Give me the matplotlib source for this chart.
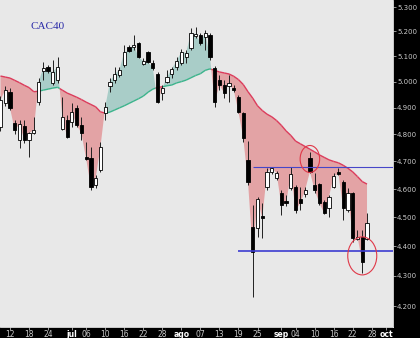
import numpy as np
import pandas as pd
import matplotlib
matplotlib.use("Agg")
import matplotlib.pyplot as plt
from matplotlib.patches import Ellipse
from matplotlib.transforms import ScaledTranslation
from matplotlib.collections import LineCollection
from matplotlib.ticker import FixedLocator, FuncFormatter, NullLocator

# ---------------- data ----------------
first_day = "2015-06-10"
last_day = "2015-09-25"
axis_end = "2015-10-01"

opens = [4827, 4919, 4961, 4843, 4779, 4831, 4779, 4805, 4922, 5043,
         5059, 4996, 5007, 4820, 4854, 4846, 4900, 4835, 4716, 4712,
         4615, 4669, 4880, 4984, 5007, 5027, 5066, 5138, 5138, 5154,
         5070, 5118, 5074, 5031, 4957, 5000, 5031, 5059, 5074, 5098,
         5134, 5182, 5186, 5178, 5186, 5055, 5007, 4988, 4984, 4976,
         4941, 4880, 4705, 4466, 4463, 4505, 4608, 4662, 4640, 4586,
         4557, 4604, 4608, 4565, 4583, 4712, 4615, 4619, 4554, 4533,
         4608, 4662, 4626, 4526, 4586, 4425, 4432, 4425]
highs = [4945, 4984, 4976, 4854, 4854, 4854, 4809, 4865, 5015, 5078,
         5066, 5086, 5098, 4941, 4873, 4919, 4911, 4865, 4771, 4753,
         4651, 4771, 4922, 5015, 5059, 5059, 5146, 5146, 5186, 5158,
         5094, 5122, 5086, 5039, 4988, 5047, 5059, 5098, 5130, 5126,
         5214, 5218, 5194, 5206, 5194, 5063, 5027, 5007, 5027, 4988,
         4949, 4884, 4775, 4543, 4572, 4550, 4676, 4680, 4666, 4597,
         4579, 4680, 4615, 4608, 4608, 4735, 4658, 4622, 4561, 4579,
         4658, 4676, 4633, 4604, 4590, 4456, 4456, 4515]
lows = [4812, 4907, 4892, 4801, 4749, 4768, 4716, 4801, 4911, 5007,
        5035, 4988, 4996, 4816, 4787, 4827, 4827, 4779, 4705, 4597,
        4604, 4662, 4854, 4961, 4996, 5019, 5059, 5118, 5126, 5094,
        5066, 5074, 5047, 4919, 4930, 4996, 5015, 5047, 5066, 5074,
        5126, 5174, 5146, 5126, 5086, 4903, 4969, 4938, 4922, 4961,
        4880, 4771, 4615, 4230, 4432, 4428, 4597, 4655, 4633, 4508,
        4540, 4597, 4515, 4526, 4572, 4658, 4586, 4543, 4512, 4501,
        4604, 4651, 4491, 4519, 4415, 4421, 4309, 4421]
closes = [4930, 4969, 4900, 4816, 4839, 4779, 4805, 4816, 5000, 5055,
          5043, 5039, 5059, 4865, 4791, 4884, 4835, 4805, 4709, 4608,
          4640, 4753, 4903, 5000, 5031, 5047, 5118, 5122, 5146, 5098,
          5082, 5078, 5055, 4922, 4976, 5019, 5051, 5082, 5118, 5114,
          5194, 5190, 5154, 5194, 5098, 4922, 4988, 4957, 4996, 4969,
          4884, 4787, 4626, 4380, 4565, 4498, 4662, 4676, 4658, 4543,
          4550, 4655, 4526, 4550, 4597, 4662, 4597, 4550, 4515, 4572,
          4647, 4655, 4533, 4586, 4428, 4432, 4346, 4480]
moving_avg = [5023, 5019, 5015, 5006, 4997, 4987, 4978, 4962, 4964, 4968,
              4972, 4976, 4979, 4968, 4957, 4949, 4941, 4932, 4922, 4913,
              4904, 4885, 4880, 4884, 4892, 4900, 4908, 4917, 4926, 4935,
              4945, 4960, 4972, 4979, 4981, 4985, 4988, 4996, 5001, 5007,
              5016, 5025, 5032, 5045, 5051, 5045, 5039, 5035, 5031, 5022,
              5009, 4990, 4962, 4937, 4908, 4890, 4876, 4866, 4852, 4834,
              4813, 4796, 4775, 4765, 4755, 4745, 4735, 4724, 4715, 4706,
              4700, 4695, 4686, 4675, 4662, 4645, 4627, 4618]

tick_dates = ["2015-06-12", "2015-06-18", "2015-06-24", "2015-07-01", "2015-07-06",
              "2015-07-10", "2015-07-16", "2015-07-22", "2015-07-28", "2015-08-03",
              "2015-08-07", "2015-08-13", "2015-08-19", "2015-08-25", "2015-09-01",
              "2015-09-04", "2015-09-10", "2015-09-16", "2015-09-22", "2015-09-28",
              "2015-10-01"]
tick_labels = ["12", "18", "24", "jul", "06", "10", "16", "22", "28", "ago",
               "07", "13", "19", "25", "sep", "04", "10", "16", "22", "28", "oct"]
month_labels = ["jul", "ago", "sep", "oct"]

price_ticks = [4200, 4300, 4400, 4500, 4600, 4700, 4800, 4900, 5000, 5100, 5200, 5300]

title = "CAC40"
resistance_level = 4678
resistance_start = "2015-08-24"
support_level = 4383
support_start = "2015-08-19"
circle_dates = ["2015-09-09", "2015-09-24"]
circle_prices = [4709, 4367]

# ---------------- layout ----------------
W, H, DPI = 420, 338, 100
fig = plt.figure(figsize=(W / DPI, H / DPI), dpi=DPI, facecolor="black")
ax = fig.add_axes([0, 11 / H, 393 / W, 327 / H])
ax.set_facecolor("#e8e8e8")

days = pd.bdate_range(first_day, axis_end)
pos_of = {d.strftime("%Y-%m-%d"): k for k, d in enumerate(days)}
n = len(closes)
x = np.arange(n)
o = np.array(opens, float)
h = np.array(highs, float)
l = np.array(lows, float)
c = np.array(closes, float)
ma = np.array(moving_avg, float)

ax.set_yscale("log")
ax.set_xlim(-0.1, 82.46)
ax.set_ylim(4132, 5329)

# fill between moving average and close
red_fill = "#e3a3a5"
green_fill = "#a9cdc8"
ax.fill_between(x, ma, c, where=c <= ma, interpolate=True, color=red_fill, lw=0, zorder=1)
ax.fill_between(x, ma, c, where=c >= ma, interpolate=True, color=green_fill, lw=0, zorder=1)

# moving average line coloured by regime
segs, cols = [], []
red_line, green_line = "#dc3c5c", "#3cb48c"
for k in range(n - 1):
    d0, d1 = c[k] - ma[k], c[k + 1] - ma[k + 1]
    if d0 * d1 < 0:
        t = d0 / (d0 - d1)
        xm = k + t
        ym = ma[k] + t * (ma[k + 1] - ma[k])
        segs.append([(k, ma[k]), (xm, ym)])
        cols.append(green_line if d0 > 0 else red_line)
        segs.append([(xm, ym), (k + 1, ma[k + 1])])
        cols.append(green_line if d1 > 0 else red_line)
    else:
        segs.append([(k, ma[k]), (k + 1, ma[k + 1])])
        cols.append(green_line if (d0 + d1) > 0 else red_line)
ax.add_collection(LineCollection(segs, colors=cols, linewidths=1.0, zorder=2))

# candles
ax.vlines(x, l, h, color="#202020", lw=0.7, zorder=3)
up = c >= o
bw = 0.68
ax.bar(x[up], (c - o)[up], bottom=o[up], width=bw, color="white",
       edgecolor="black", linewidth=0.6, zorder=4)
ax.bar(x[~up], (o - c)[~up], bottom=c[~up], width=bw, color="black",
       edgecolor="black", linewidth=0.6, zorder=4)

# horizontal levels
ax.hlines(resistance_level, pos_of[resistance_start], 82.46, color="#4646c8", lw=0.8, zorder=5)
ax.hlines(support_level, pos_of[support_start], 82.46, color="#3c3cd0", lw=1.2, zorder=5)

# circles
sizes_px = [(19.5, 27), (29, 38)]
for d, p, (wp, hp) in zip(circle_dates, circle_prices, sizes_px):
    e = Ellipse((0, 0), wp / DPI, hp / DPI, fill=False, edgecolor="#e03848", lw=0.8,
                transform=fig.dpi_scale_trans + ScaledTranslation(pos_of[d], p, ax.transData),
                zorder=6)
    ax.add_artist(e)

# title
ax.text(0.122, 0.918, title, transform=ax.transAxes, ha="center", va="center",
        fontsize=8, color="#2a2aa8", family="Liberation Serif")

# axes styling
for s in ["top", "left"]:
    ax.spines[s].set_visible(False)
for s in ["bottom", "right"]:
    ax.spines[s].set_color("#f0f0f0")
    ax.spines[s].set_linewidth(0.6)

ax.yaxis.tick_right()
ax.yaxis.set_major_locator(FixedLocator(price_ticks))
ax.yaxis.set_minor_locator(NullLocator())
ax.yaxis.set_major_formatter(FuncFormatter(lambda v, _: f"{v / 1000:.3f}"))
ax.tick_params(axis="y", which="major", direction="out", length=2, width=0.6,
               color="#b0b0b0", labelcolor="#c8c8c8", labelsize=5, pad=1)

ax.xaxis.set_major_locator(FixedLocator([pos_of[d] for d in tick_dates]))
ax.xaxis.set_minor_locator(NullLocator())
ax.set_xticklabels(tick_labels)
ax.tick_params(axis="x", which="major", direction="out", length=2, width=0.6,
               color="#b0b0b0", labelsize=5.5, pad=0.5)
for lab in ax.get_xticklabels():
    if lab.get_text() in month_labels:
        lab.set_color("white")
        lab.set_fontweight("bold")
    else:
        lab.set_color("#c8c8c8")

fig.savefig("out.png", dpi=DPI, facecolor="black")
